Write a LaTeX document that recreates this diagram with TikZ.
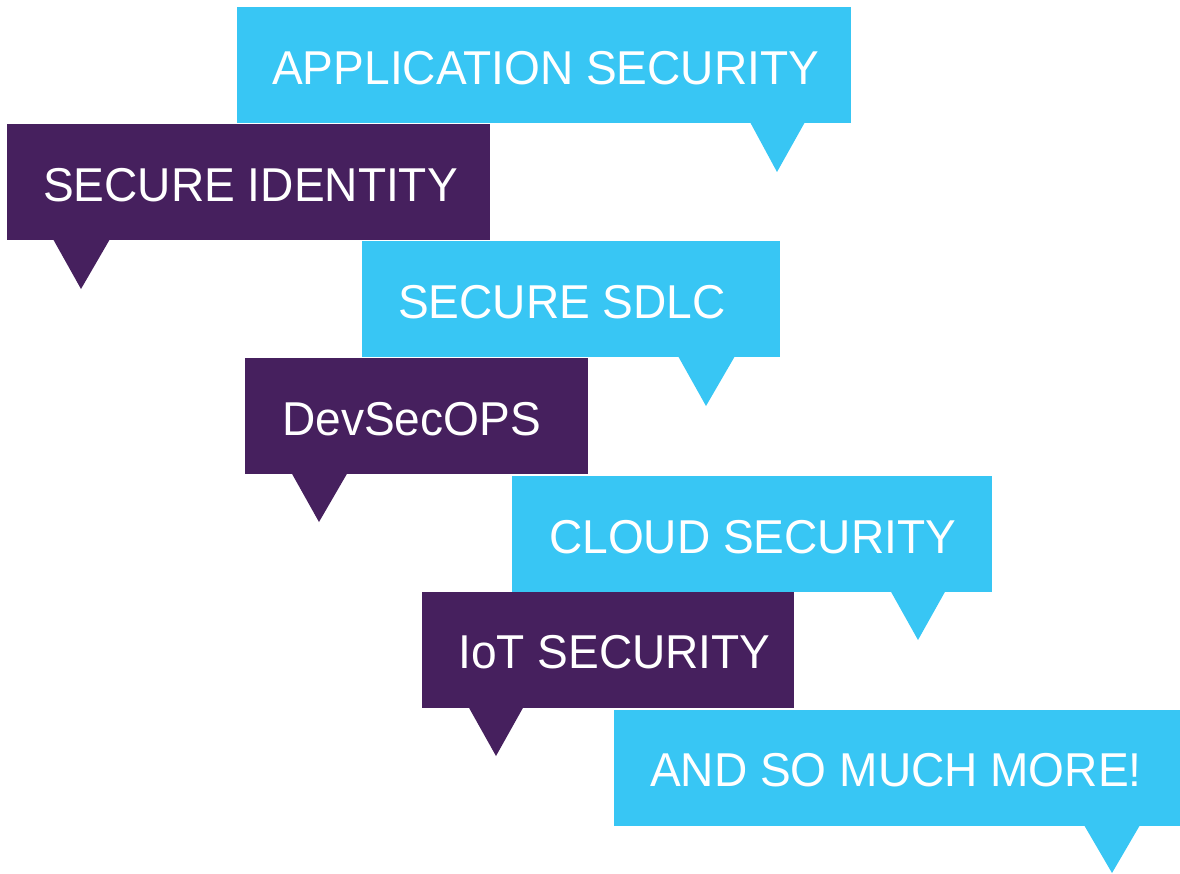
\documentclass[tikz,border=0pt]{standalone}
\usepackage{fontspec}
\setmainfont[FakeStretch=0.97]{Liberation Sans}
\definecolor{skyc}{RGB}{56,198,244}
\definecolor{plum}{RGB}{70,32,94}
\begin{document}
\begin{tikzpicture}[x=1pt,y=-1pt,
  bubble/.style={rectangle, inner sep=0pt, outer sep=0pt, anchor=north west, minimum height=116pt},
  skybox/.style={bubble, fill=skyc},
  plumbox/.style={bubble, fill=plum},
  label/.style={anchor=base west, inner sep=0pt, text=white, font=\fontsize{47.5}{56}\selectfont},
]
\useasboundingbox (0,0) rectangle (1180,873);

% 1 APPLICATION SECURITY
\node[skybox, minimum width=614pt] (b1) at (237,7) {};
\coordinate (t1) at (777,172);
\fill[skyc] (750,122) -- (805,122) -- (t1) -- cycle;
\node[label] (l1) at (272,84) {APPLICATION SECURITY};

% 2 SECURE IDENTITY
\node[plumbox, minimum width=483pt] (b2) at (7,124) {};
\coordinate (t2) at (81,289);
\fill[plum] (53,239) -- (110,239) -- (t2) -- cycle;
\node[label] (l2) at (43,201) {SECURE IDENTITY};

% 3 SECURE SDLC
\node[skybox, minimum width=418pt] (b3) at (362,241) {};
\coordinate (t3) at (706,406);
\fill[skyc] (678,356) -- (735,356) -- (t3) -- cycle;
\node[label] (l3) at (398,318) {SECURE SDLC};

% 4 DevSecOPS
\node[plumbox, minimum width=343pt] (b4) at (245,358) {};
\coordinate (t4) at (319,522);
\fill[plum] (291,472) -- (348,472) -- (t4) -- cycle;
\node[label] (l4) at (282,435) {DevSecOPS};

% 5 CLOUD SECURITY
\node[skybox, minimum width=480pt] (b5) at (512,476) {};
\coordinate (t5) at (918,640);
\fill[skyc] (890,590) -- (946,590) -- (t5) -- cycle;
\node[label] (l5) at (549,553) {CLOUD SECURITY};

% 6 IoT SECURITY
\node[plumbox, minimum width=372pt] (b6) at (422,592) {};
\coordinate (t6) at (496,756);
\fill[plum] (468,706) -- (524,706) -- (t6) -- cycle;
\node[label] (l6) at (458,668) {IoT SECURITY};

% 7 AND SO MUCH MORE!
\node[skybox, minimum width=566pt] (b7) at (614,710) {};
\coordinate (t7) at (1112,873);
\fill[skyc] (1084,825) -- (1140,825) -- (t7) -- cycle;
\node[label] (l7) at (650,786) {AND SO MUCH MORE!};
\end{tikzpicture}
\end{document}
